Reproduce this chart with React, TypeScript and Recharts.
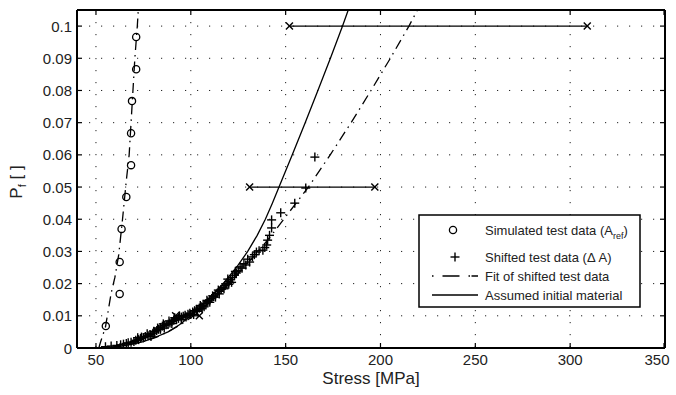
import { ScatterChart, Scatter, XAxis, YAxis, CartesianGrid, ReferenceLine } from 'recharts'

const xTicks = [50, 100, 150, 200, 250, 300, 350]
const yTicks = [0, 0.01, 0.02, 0.03, 0.04, 0.05, 0.06, 0.07, 0.08, 0.09, 0.1]

// simulated test data (A_ref)
const simulated = [
  [55.2, 0.0068], [62.5, 0.0168], [62.5, 0.0267], [63.5, 0.037], [66, 0.0469],
  [68.5, 0.0568], [68.5, 0.0667], [69, 0.0767], [71.2, 0.0866], [71.2, 0.0966],
]

// fit line through simulated data
const simulatedFit = [
  [51.5, 0], [52.5, 0.002], [55, 0.0065], [58, 0.017], [60, 0.022], [62, 0.029],
  [64, 0.04], [66, 0.052], [67.5, 0.06], [68.5, 0.07], [69.5, 0.08], [70.5, 0.09],
  [71.8, 0.1], [72.3, 0.105],
]

// shifted test data (delta A)
const shifted = [
  [55, 0.0004], [58, 0.0006], [61, 0.0008], [63, 0.001], [64.5, 0.0012], [66, 0.0014],
  [67, 0.0016], [68.5, 0.0018], [70, 0.002], [71, 0.0024], [72.5, 0.0026], [73.5, 0.003],
  [75, 0.0032], [76, 0.0036], [77.5, 0.0038], [78.5, 0.0042], [80, 0.0046], [81, 0.005],
  [82, 0.0054], [83, 0.0058], [84, 0.0064], [85, 0.0068], [86, 0.007], [87, 0.0072],
  [88, 0.0074], [89, 0.0078], [90, 0.0082], [91, 0.0086], [92.5, 0.0088], [93.5, 0.0092],
  [95, 0.0096], [96, 0.0099], [97, 0.0102], [98.5, 0.0105], [99.5, 0.0108], [101, 0.0112],
  [102, 0.0116], [103, 0.012], [104.5, 0.0124], [105.5, 0.0128], [106.5, 0.0133], [108, 0.0138],
  [109, 0.0144], [110, 0.0149], [111, 0.0154], [112, 0.016], [113, 0.0165], [114, 0.017],
  [115, 0.0176], [116, 0.0182], [117, 0.0188], [118, 0.0194], [119, 0.02], [120, 0.0206],
  [121, 0.0212], [122, 0.0219], [123, 0.0226], [124, 0.0233], [125, 0.024], [127, 0.0248],
  [129, 0.0258], [131, 0.0267], [132.5, 0.0283], [134.6, 0.0298], [138, 0.0304], [140, 0.032],
  [140.5, 0.0335], [141.5, 0.035], [142.6, 0.0373], [142.6, 0.0398], [147.4, 0.042],
  [154.8, 0.045], [160.6, 0.0497], [165.4, 0.0593],
  [84, 0.0058], [86, 0.0062], [95, 0.0088], [100, 0.0104], [105, 0.0132], [110, 0.0142],
  [115, 0.0168], [120, 0.0198], [79, 0.0036], [90, 0.0076], [107, 0.0128], [113, 0.0158],
  [72, 0.0032], [74, 0.0034], [77, 0.0044], [80.5, 0.0052], [82.5, 0.0062], [85.5, 0.0075],
  [88.5, 0.0084], [91.5, 0.0094], [94, 0.01], [97.5, 0.0096], [101.5, 0.0104], [103.5, 0.0114],
  [106, 0.0122], [108.5, 0.0148], [111.5, 0.0162], [114.5, 0.018], [117.5, 0.0184], [119.5, 0.0214],
  [121.5, 0.0204], [123.5, 0.0238], [126, 0.0252], [128, 0.0262], [130, 0.0276], [133.5, 0.029],
  [136, 0.0302], [139, 0.0312],
]

// fit of shifted test data
const shiftedFit = [
  [56, 0], [65, 0.0008], [75, 0.002], [82, 0.0034], [88, 0.005], [95, 0.0074], [101.5, 0.01],
  [111.5, 0.015], [120, 0.02], [128, 0.025], [135.5, 0.03], [142.5, 0.035], [149, 0.04],
  [155.5, 0.045], [162, 0.05], [173.5, 0.06], [184.5, 0.07], [195, 0.08], [205.2, 0.09],
  [215, 0.1], [219.5, 0.105],
]

// assumed initial material
const initial = [
  [57, 0], [66, 0.0008], [75, 0.002], [82, 0.0035], [88, 0.005], [94, 0.0072], [100, 0.01],
  [109, 0.015], [117, 0.02], [124, 0.025], [130, 0.03], [135, 0.035], [139.3, 0.04],
  [143, 0.045], [146.5, 0.05], [153.5, 0.06], [160.3, 0.07], [167, 0.08], [173.6, 0.09],
  [180, 0.1], [183, 0.105],
]

// intervals with x end markers
const interval1 = [[131, 0.05], [197, 0.05]]
const interval2 = [[152, 0.1], [309, 0.1]]
const interval3 = [[92, 0.01], [104.5, 0.01]]

const toPts = (a: number[][]) => a.map(([x, y]) => ({ x, y }))

const W = 676
const H = 395
const LEFT = 77
const RIGHT = 665
const TOP = 10
const BOTTOM = 348
const FONT = '"Liberation Sans", Arial, Helvetica, sans-serif'

const Circle = (p: any) => <circle cx={p.cx} cy={p.cy} r={3.6} fill="none" stroke="#000" strokeWidth={1.3} />
const Plus = (p: any) => (
  <g stroke="#000" strokeWidth={1.4}>
    <line x1={p.cx - 4.5} x2={p.cx + 4.5} y1={p.cy} y2={p.cy} />
    <line x1={p.cx} x2={p.cx} y1={p.cy - 4.5} y2={p.cy + 4.5} />
  </g>
)
const Cross = (p: any) => (
  <g stroke="#000" strokeWidth={1.4}>
    <line x1={p.cx - 3.5} x2={p.cx + 3.5} y1={p.cy - 3.5} y2={p.cy + 3.5} />
    <line x1={p.cx - 3.5} x2={p.cx + 3.5} y1={p.cy + 3.5} y2={p.cy - 3.5} />
  </g>
)
const None = () => <g />

const XTick = (p: any) => {
  const v = p.payload.value
  return (
    <g>
      <line x1={p.x} x2={p.x} y1={BOTTOM} y2={BOTTOM - 5} stroke="#000" strokeWidth={1.2} />
      <line x1={p.x} x2={p.x} y1={TOP} y2={TOP + 5} stroke="#000" strokeWidth={1.2} />
      <text x={p.x + (v === 350 ? -7 : 0)} y={BOTTOM + 17} textAnchor="middle" fontSize={15} fontFamily={FONT} fill="#222">
        {v}
      </text>
    </g>
  )
}

const YTick = (p: any) => (
  <g>
    <line x1={LEFT} x2={LEFT + 5} y1={p.y} y2={p.y} stroke="#000" strokeWidth={1.2} />
    <line x1={RIGHT} x2={RIGHT - 5} y1={p.y} y2={p.y} stroke="#000" strokeWidth={1.2} />
    <text x={LEFT - 5} y={p.y + 5.5} textAnchor="end" fontSize={15} fontFamily={FONT} fill="#222">
      {p.payload.value}
    </text>
  </g>
)

const lineSolid = { stroke: '#000', strokeWidth: 1.3 }
const lineDashDot = { stroke: '#000', strokeWidth: 1.3, strokeDasharray: '10 5 1.5 5' }

export default function App() {
  return (
    <div style={{ position: 'absolute', left: 0, top: 0, width: W, height: H, background: '#fff' }}>
      <ScatterChart width={W} height={H} margin={{ top: TOP, right: W - RIGHT, bottom: H - BOTTOM - 30, left: 0 }}>
        <CartesianGrid stroke="#222" strokeDasharray="1.2 10.8" />
        <XAxis
          type="number"
          dataKey="x"
          domain={[40, 350]}
          ticks={xTicks}
          height={30}
          tickSize={0}
          tickMargin={0}
          tickLine={false}
          axisLine={{ stroke: '#000', strokeWidth: 2 }}
          tick={XTick}
          allowDataOverflow
        />
        <YAxis
          type="number"
          dataKey="y"
          domain={[0, 0.105]}
          ticks={yTicks}
          width={LEFT}
          tickSize={0}
          tickMargin={0}
          tickLine={false}
          axisLine={{ stroke: '#000', strokeWidth: 2 }}
          tick={YTick}
          allowDataOverflow
        />
        <ReferenceLine y={0.105} stroke="#000" strokeWidth={2} />
        <ReferenceLine x={350} stroke="#000" strokeWidth={2} />
        <Scatter data={toPts(simulatedFit)} line={lineDashDot} shape={None} isAnimationActive={false} />
        <Scatter data={toPts(shiftedFit)} line={lineDashDot} shape={None} isAnimationActive={false} />
        <Scatter data={toPts(initial)} line={lineSolid} shape={None} isAnimationActive={false} />
        <Scatter data={toPts(interval1)} line={lineSolid} shape={Cross} isAnimationActive={false} />
        <Scatter data={toPts(interval2)} line={lineSolid} shape={Cross} isAnimationActive={false} />
        <Scatter data={toPts(interval3)} line={lineSolid} shape={Cross} isAnimationActive={false} />
        <Scatter data={toPts(simulated)} shape={Circle} isAnimationActive={false} />
        <Scatter data={toPts(shifted)} shape={Plus} isAnimationActive={false} />
      </ScatterChart>
      <svg width={W} height={H} style={{ position: 'absolute', left: 0, top: 0, pointerEvents: 'none' }} fontFamily={FONT}>
        <text x={(LEFT + RIGHT) / 2} y={384} textAnchor="middle" fontSize={17} fill="#222">
          Stress [MPa]
        </text>
        <text transform="translate(22,182) rotate(-90)" textAnchor="middle" fontSize={17} fill="#222">
          P<tspan fontSize={11} dy={4}>f</tspan>
          <tspan dy={-4}> [ ]</tspan>
        </text>
        <g>
          <rect x={419} y={215} width={221} height={92} fill="#fff" stroke="#000" strokeWidth={1.5} />
          <circle cx={453} cy={230} r={3.6} fill="none" stroke="#000" strokeWidth={1.3} />
          <text x={485} y={234.5} fontSize={13} fill="#222">
            Simulated test data (A<tspan fontSize={9} dy={4}>ref</tspan>
            <tspan dy={-4}>)</tspan>
          </text>
          <line x1={450.5} x2={459.5} y1={257} y2={257} stroke="#000" strokeWidth={1.4} />
          <line x1={455} x2={455} y1={252.5} y2={261.5} stroke="#000" strokeWidth={1.4} />
          <text x={485} y={261.5} fontSize={13} fill="#222">
            Shifted test data (Δ A)
          </text>
          <line x1={432} x2={478} y1={276} y2={276} stroke="#000" strokeWidth={1.3} strokeDasharray="1.5 9 17 9 1.5" />
          <text x={485} y={280.5} fontSize={13} fill="#222">
            Fit of shifted test data
          </text>
          <line x1={432} x2={478} y1={295} y2={295} stroke="#000" strokeWidth={1.3} />
          <text x={485} y={299.5} fontSize={13} fill="#222">
            Assumed initial material
          </text>
        </g>
      </svg>
    </div>
  )
}
